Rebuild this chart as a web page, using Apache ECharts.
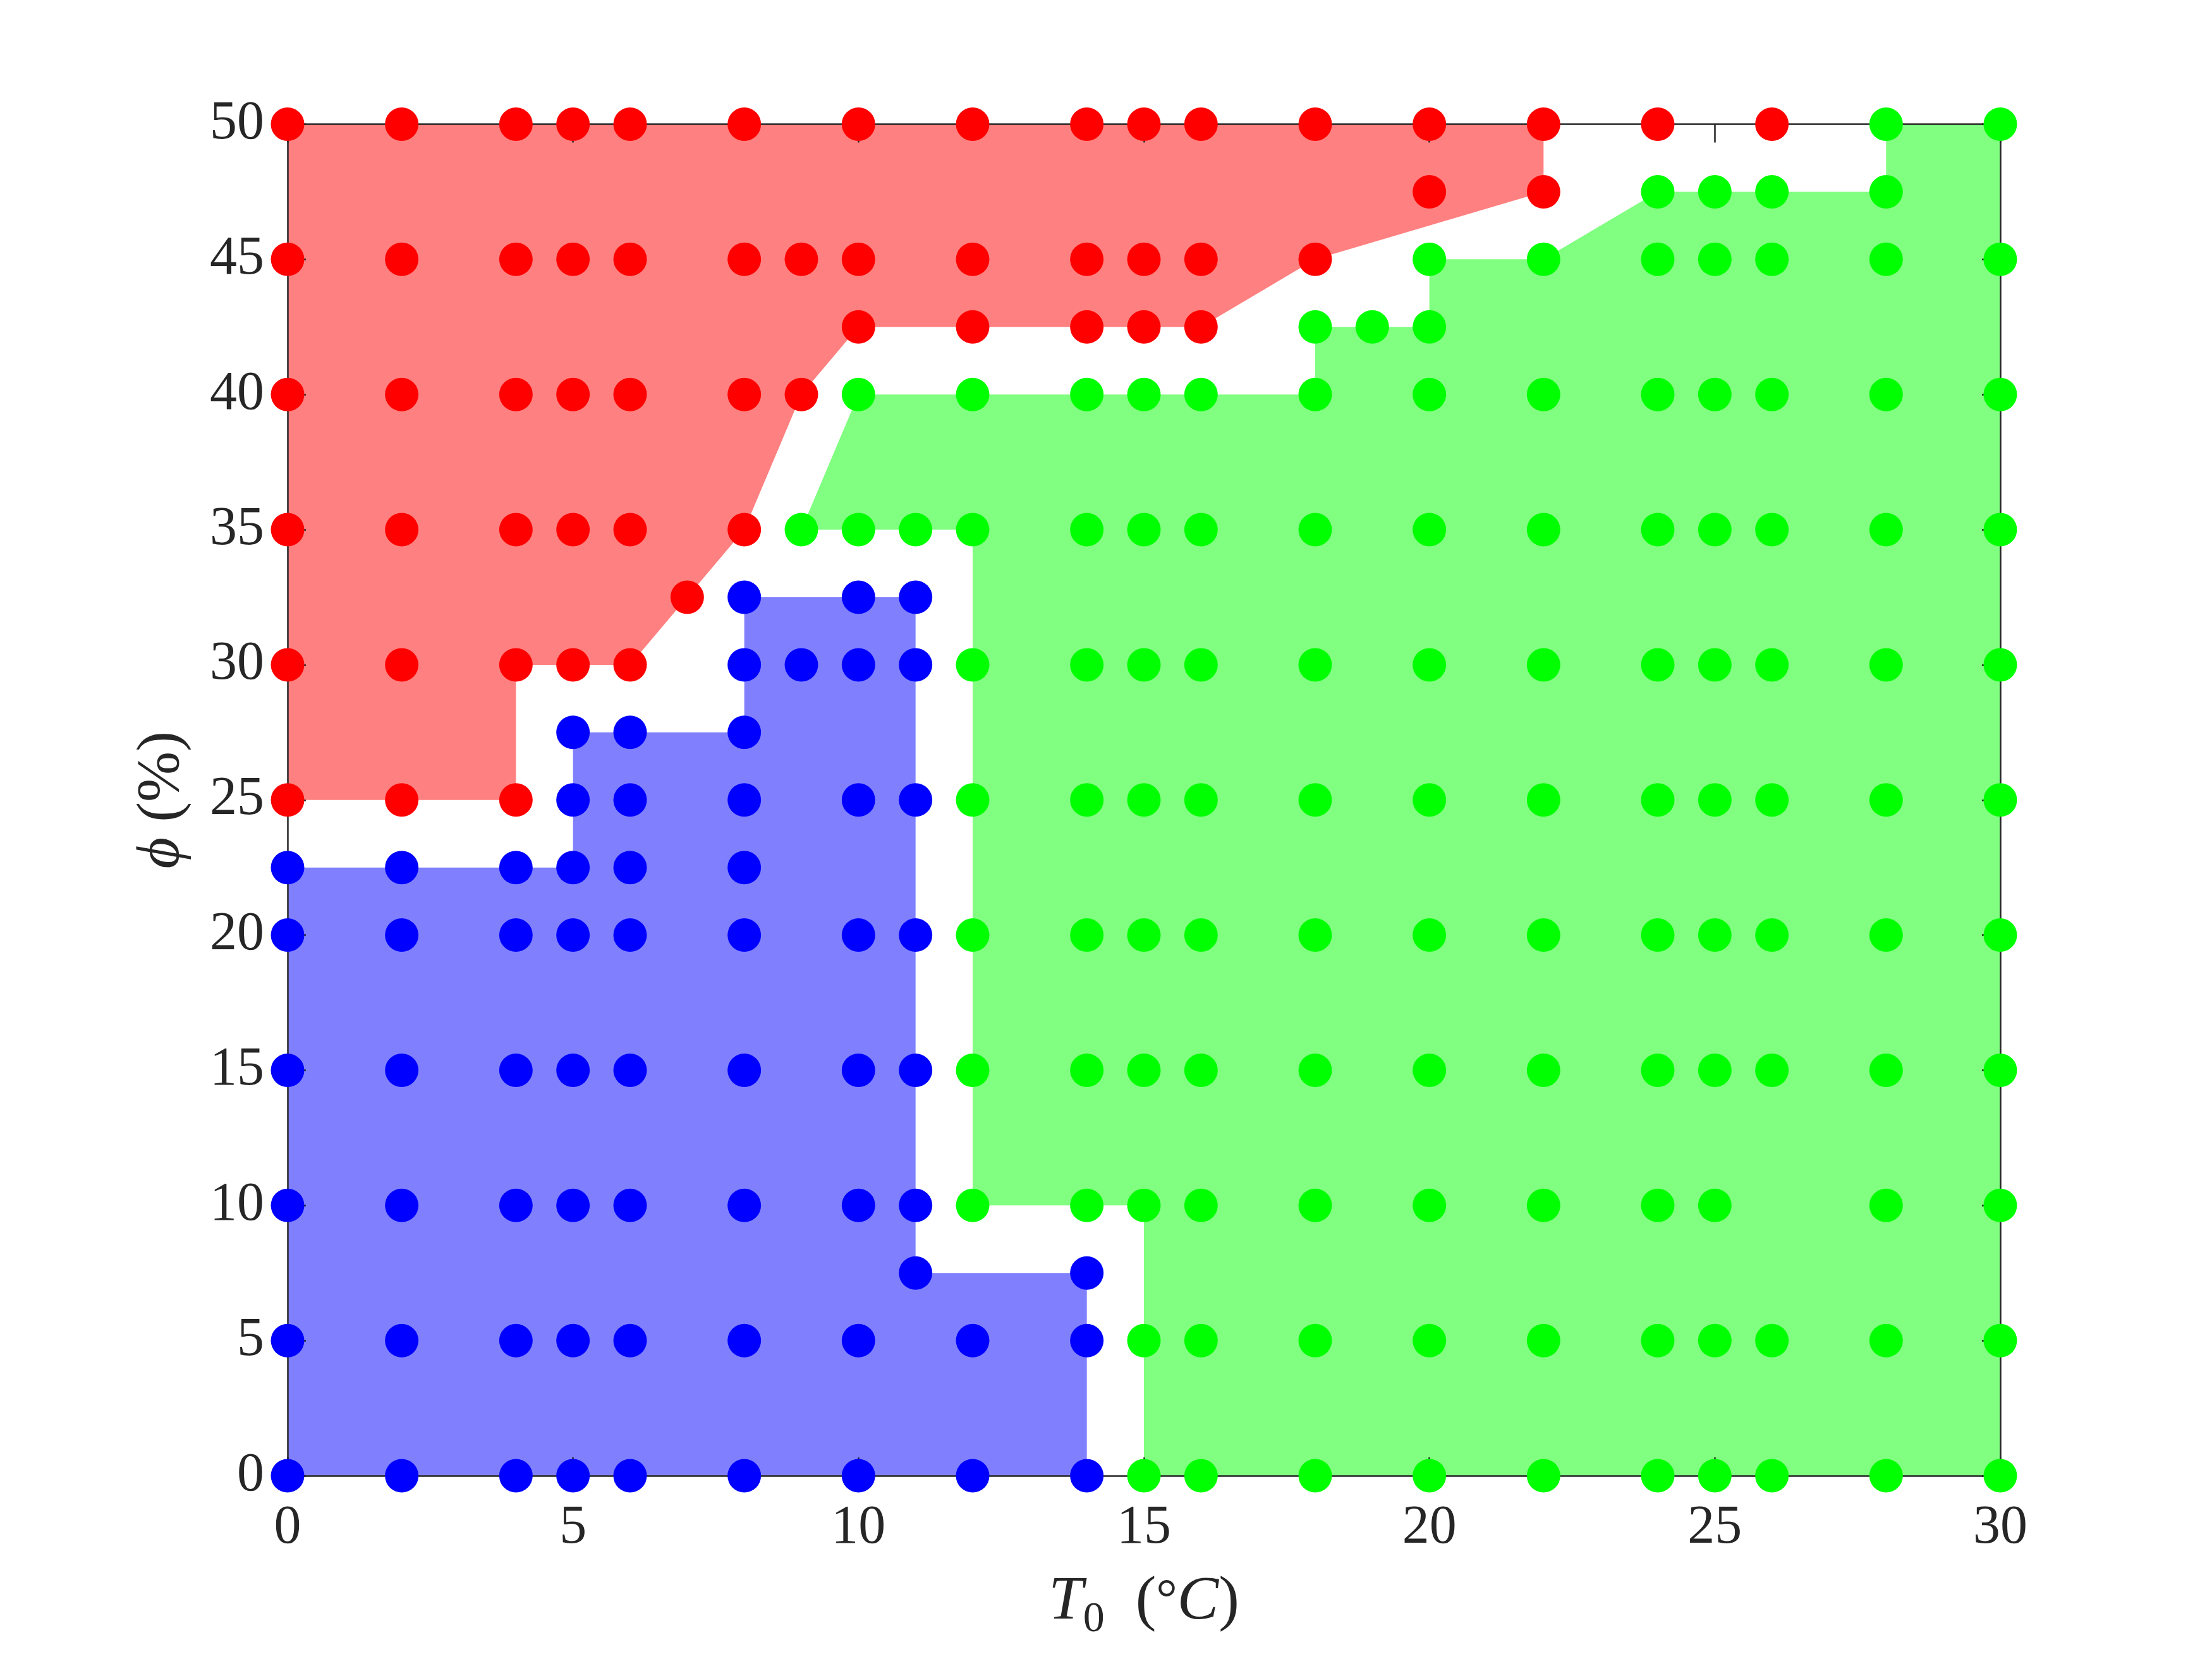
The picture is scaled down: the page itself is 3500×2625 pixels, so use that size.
<!DOCTYPE html>
<html>
<head>
<meta charset="utf-8">
<script src="https://cdn.jsdelivr.net/npm/echarts@6/dist/echarts.min.js"></script>
<style>
html,body{margin:0;padding:0;background:#fff;}
#chart{width:3500px;height:2625px;}
</style>
</head>
<body>
<div id="chart"></div>
<script>
// ---- data ----
const xTickValues = [0, 5, 10, 15, 20, 25, 30];
const yTickValues = [0, 5, 10, 15, 20, 25, 30, 35, 40, 45, 50];

// red class points [T0, phi]
const redPoints = [
  [0,50],[2,50],[4,50],[5,50],[6,50],[8,50],[10,50],[12,50],[14,50],[15,50],[16,50],[18,50],[20,50],[22,50],[24,50],[26,50],
  [20,47.5],[22,47.5],
  [0,45],[2,45],[4,45],[5,45],[6,45],[8,45],[9,45],[10,45],[12,45],[14,45],[15,45],[16,45],[18,45],
  [10,42.5],[12,42.5],[14,42.5],[15,42.5],[16,42.5],
  [0,40],[2,40],[4,40],[5,40],[6,40],[8,40],[9,40],
  [0,35],[2,35],[4,35],[5,35],[6,35],[8,35],
  [7,32.5],
  [0,30],[2,30],[4,30],[5,30],[6,30],
  [0,25],[2,25],[4,25]
];

// blue class points [T0, phi]
const bluePoints = [
  [8,32.5],[10,32.5],[11,32.5],
  [8,30],[9,30],[10,30],[11,30],
  [5,27.5],[6,27.5],[8,27.5],
  [5,25],[6,25],[8,25],[10,25],[11,25],
  [0,22.5],[2,22.5],[4,22.5],[5,22.5],[6,22.5],[8,22.5],
  [0,20],[2,20],[4,20],[5,20],[6,20],[8,20],[10,20],[11,20],
  [0,15],[2,15],[4,15],[5,15],[6,15],[8,15],[10,15],[11,15],
  [0,10],[2,10],[4,10],[5,10],[6,10],[8,10],[10,10],[11,10],
  [11,7.5],[14,7.5],
  [0,5],[2,5],[4,5],[5,5],[6,5],[8,5],[10,5],[12,5],[14,5],
  [0,0],[2,0],[4,0],[5,0],[6,0],[8,0],[10,0],[12,0],[14,0]
];

// green class points [T0, phi]
const greenPoints = [
  [28,50],[30,50],
  [24,47.5],[25,47.5],[26,47.5],[28,47.5],
  [20,45],[22,45],[24,45],[25,45],[26,45],[28,45],[30,45],
  [18,42.5],[19,42.5],[20,42.5],
  [10,40],[12,40],[14,40],[15,40],[16,40],[18,40],[20,40],[22,40],[24,40],[25,40],[26,40],[28,40],[30,40],
  [9,35],[10,35],[11,35],[12,35],[14,35],[15,35],[16,35],[18,35],[20,35],[22,35],[24,35],[25,35],[26,35],[28,35],[30,35],
  [12,30],[14,30],[15,30],[16,30],[18,30],[20,30],[22,30],[24,30],[25,30],[26,30],[28,30],[30,30],
  [12,25],[14,25],[15,25],[16,25],[18,25],[20,25],[22,25],[24,25],[25,25],[26,25],[28,25],[30,25],
  [12,20],[14,20],[15,20],[16,20],[18,20],[20,20],[22,20],[24,20],[25,20],[26,20],[28,20],[30,20],
  [12,15],[14,15],[15,15],[16,15],[18,15],[20,15],[22,15],[24,15],[25,15],[26,15],[28,15],[30,15],
  [12,10],[14,10],[15,10],[16,10],[18,10],[20,10],[22,10],[24,10],[25,10],[28,10],[30,10],
  [15,5],[16,5],[18,5],[20,5],[22,5],[24,5],[25,5],[26,5],[28,5],[30,5],
  [15,0],[16,0],[18,0],[20,0],[22,0],[24,0],[25,0],[26,0],[28,0],[30,0]
];

// region outlines [T0, phi]
const redRegion = [[0,25],[0,50],[22,50],[22,47.5],[18,45],[16,42.5],[10,42.5],[9,40],[8,35],[7,32.5],[6,30],[4,30],[4,25]];
const blueRegion = [[0,0],[14,0],[14,7.5],[11,7.5],[11,32.5],[8,32.5],[8,27.5],[5,27.5],[5,22.5],[0,22.5]];
const greenRegion = [[15,0],[30,0],[30,50],[28,50],[28,47.5],[24,47.5],[22,45],[20,45],[20,42.5],[18,42.5],[18,40],[10,40],[9,35],[12,35],[12,10],[15,10]];

// ---- chart ----
const chart = echarts.init(document.getElementById('chart'), null, {renderer: 'canvas'});
const serif = 'Liberation Serif';
const axisColor = '#262626';

function regionSeries(name, verts, color) {
  return {
    name: name,
    type: 'custom',
    z: 1,
    silent: true,
    data: [0],
    renderItem: function (params, api) {
      const pts = verts.map(v => api.coord(v));
      return {
        type: 'polygon',
        shape: {points: pts},
        style: {fill: color, stroke: null}
      };
    }
  };
}

function scatterSeries(name, pts, color) {
  return {
    name: name,
    type: 'scatter',
    z: 5,
    clip: false,
    symbol: 'circle',
    symbolSize: 53,
    itemStyle: {color: color, opacity: 1},
    data: pts
  };
}

const xBase = {
  type: 'value', min: 0, max: 30, interval: 5,
  axisLine: {show: true, onZero: false, lineStyle: {color: axisColor, width: 2.5}},
  axisTick: {show: true, inside: true, length: 29, lineStyle: {color: axisColor, width: 2.5}},
  splitLine: {show: false},
  z: 3
};
const yBase = {
  type: 'value', min: 0, max: 50, interval: 5,
  axisLine: {show: true, onZero: false, lineStyle: {color: axisColor, width: 2.5}},
  axisTick: {show: true, inside: true, length: 29, lineStyle: {color: axisColor, width: 2.5}},
  splitLine: {show: false},
  z: 3
};

const option = {
  backgroundColor: '#ffffff',
  animation: false,
  grid: {left: 455, right: 335, top: 196.5, bottom: 290, containLabel: false},
  xAxis: [
    Object.assign({}, xBase, {
      position: 'bottom',
      axisLabel: {show: true, margin: 40, fontFamily: serif, fontSize: 86, color: axisColor,
        formatter: v => (xTickValues.indexOf(v) >= 0 ? String(v) : '')},
      name: '{i|T}{sub|0}  ({deg|°}{i|C})',
      nameLocation: 'middle',
      nameGap: 138,
      nameTextStyle: {
        fontFamily: serif, fontSize: 98, color: axisColor,
        rich: {
          i: {fontFamily: serif, fontSize: 98, fontStyle: 'italic', color: axisColor, lineHeight: 124},
          sub: {fontFamily: serif, fontSize: 68, color: axisColor, lineHeight: 68, verticalAlign: 'bottom'},
          deg: {fontFamily: serif, fontSize: 84, color: axisColor, lineHeight: 124}
        }
      }
    }),
    Object.assign({}, xBase, {
      position: 'top',
      axisLabel: {show: false}
    })
  ],
  yAxis: [
    Object.assign({}, yBase, {
      position: 'left',
      axisLabel: {show: true, margin: 37, fontFamily: serif, fontSize: 86, color: axisColor,
        formatter: v => (yTickValues.indexOf(v) >= 0 ? String(v) : '')},
      name: '{i|ϕ} (%)',
      nameLocation: 'middle',
      nameGap: 150,
      nameTextStyle: {
        fontFamily: serif, fontSize: 96, color: axisColor,
        rich: {
          i: {fontFamily: serif, fontSize: 96, fontStyle: 'italic', color: axisColor}
        }
      }
    }),
    Object.assign({}, yBase, {
      position: 'right',
      axisLabel: {show: false}
    })
  ],
  series: [
    regionSeries('redRegion', redRegion, '#ff8080'),
    regionSeries('blueRegion', blueRegion, '#8080ff'),
    regionSeries('greenRegion', greenRegion, '#80ff80'),
    scatterSeries('red', redPoints, '#ff0000'),
    scatterSeries('blue', bluePoints, '#0000ff'),
    scatterSeries('green', greenPoints, '#00ff00')
  ]
};
chart.setOption(option);
</script>
</body>
</html>
